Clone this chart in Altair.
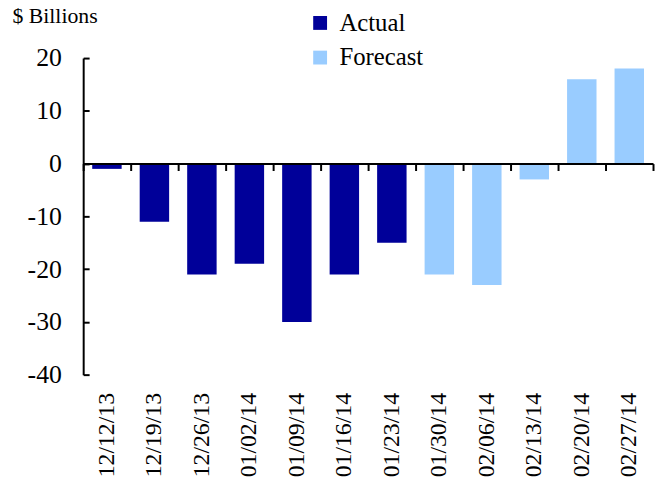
import altair as alt
import pandas as pd

dates = ["12/12/13", "12/19/13", "12/26/13", "01/02/14", "01/09/14", "01/16/14",
         "01/23/14", "01/30/14", "02/06/14", "02/13/14", "02/20/14", "02/27/14"]
values = [-1, -11, -21, -19, -30, -21, -15, -21, -23, -3, 16, 18]
types = ["Actual"] * 7 + ["Forecast"] * 5
series = ["Actual", "Forecast"]
series_colors = ["#000099", "#99CCFF"]
y_ticks = [-40, -30, -20, -10, 0, 10, 20]

df = pd.DataFrame({"date": dates, "value": values, "type": types})

W, H = 576, 320
Y_MIN, Y_MAX = -40, 20
FONT = "Liberation Serif"
zero_offset = -H * (0 - Y_MIN) / (Y_MAX - Y_MIN)

x_scale = alt.Scale(paddingInner=0, paddingOuter=0)
y_scale = alt.Scale(domain=[Y_MIN, Y_MAX], nice=False)

bars = alt.Chart(df).mark_bar(width=alt.RelativeBandSize(0.62)).encode(
    x=alt.X("date:N", sort=dates, scale=x_scale,
            axis=alt.Axis(orient="bottom", title=None, domain=False, ticks=False,
                          labelAngle=-90, labelAlign="right", labelBaseline="middle",
                          labelPadding=18, labelFont=FONT, labelFontSize=24,
                          labelColor="black")),
    y=alt.Y("value:Q", scale=y_scale,
            axis=alt.Axis(orient="left", values=y_ticks, grid=False, ticks=False,
                          domain=True, domainColor="black", domainWidth=2,
                          labelExpr="'' + datum.value", labelPadding=22,
                          labelFont=FONT, labelFontSize=26, labelColor="black",
                          title="$ Billions", titleAngle=0, titleX=-72, titleY=-36,
                          titleAlign="left", titleBaseline="alphabetic",
                          titleFont=FONT, titleFontSize=22, titleFontWeight="normal",
                          titleColor="black")),
    color=alt.Color("type:N", scale=alt.Scale(domain=series, range=series_colors),
                    legend=alt.Legend(title=None, orient="none", legendX=227, legendY=-48,
                                      symbolType="square", symbolSize=196,
                                      symbolStrokeWidth=0, labelFont=FONT,
                                      labelFontSize=25, labelColor="black",
                                      labelOffset=7, rowPadding=9, padding=0)),
)

axes_layer = alt.Chart(df).mark_bar(opacity=0, width=alt.RelativeBandSize(0.62)).encode(
    x=alt.X("date:N", sort=dates, scale=x_scale,
            axis=alt.Axis(orient="bottom", offset=zero_offset, title=None, labels=False,
                          domain=True, domainColor="black", domainWidth=2,
                          ticks=True, tickColor="black", tickWidth=2, tickSize=7,
                          bandPosition=1, tickExtra=True, zindex=1)),
    y=alt.Y("value:Q", scale=y_scale,
            axis=alt.Axis(orient="right", offset=-W, values=y_ticks, title=None,
                          labels=False, domain=False, grid=False, ticks=True,
                          tickColor="black", tickWidth=2, tickSize=6, zindex=1)),
)

chart = alt.layer(bars, axes_layer).resolve_axis(
    x="independent", y="independent"
).properties(
    width=W, height=H,
    autosize=alt.AutoSizeParams(type="none"),
    padding={"left": 76, "top": 48, "right": 2, "bottom": 115},
    background="white",
).configure(
    font=FONT
).configure_view(stroke=None)

chart.save("out.html", embed_options={"renderer": "svg", "actions": False})
